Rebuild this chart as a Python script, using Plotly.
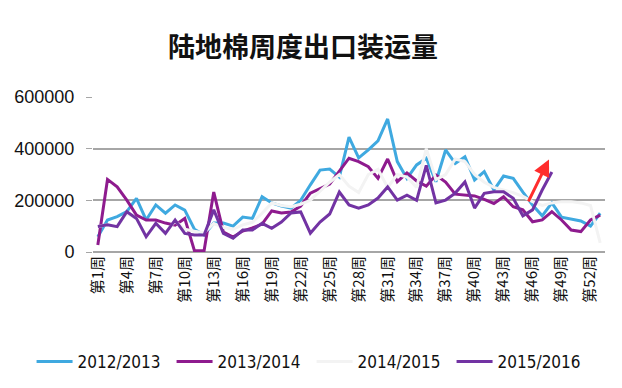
import plotly.graph_objects as go

weeks = [f"第{i}周" for i in range(1, 54)]
tick_labels = weeks[0::3]

s2012 = [59000, 124000, 137000, 156000, 208000, 124000, 182000, 150000, 182000, 162000,
         88000, 66000, 112000, 112000, 100000, 135000, 130000, 214000, 190000, 178000,
         170000, 200000, 260000, 317000, 321000, 290000, 445000, 364000, 395000, 430000,
         515000, 350000, 285000, 337000, 363000, 272000, 395000, 343000, 369000, 279000,
         311000, 240000, 294000, 285000, 232000, 182000, 140000, 190000, 135000, 128000,
         120000, 100000, 150000]
s2013 = [27000, 281000, 252000, 201000, 143000, 124000, 124000, 112000, 104000, 130000,
         5000, 5000, 232000, 77000, 58000, 81000, 93000, 108000, 159000, 151000,
         155000, 178000, 228000, 244000, 263000, 313000, 363000, 350000, 330000, 285000,
         360000, 272000, 306000, 275000, 255000, 298000, 271000, 224000, 220000, 217000,
         204000, 188000, 214000, 175000, 163000, 117000, 124000, 156000, 124000, 85000,
         79000, 124000, 143000]
s2014 = [99000, 105000, 98000, 150000, 128000, 62000, 108000, 75000, 120000, 88000,
         80000, 75000, 110000, 95000, 88000, 105000, 115000, 150000, 190000, 180000,
         175000, 185000, 200000, 235000, 270000, 300000, 255000, 230000, 300000, 320000,
         250000, 300000, 290000, 250000, 400000, 280000, 300000, 360000, 350000, 300000,
         270000, 250000, 240000, 230000, 215000, 195000, 180000, 190000, 195000, 195000,
         190000, 180000, 35000]
s2015 = [99000, 105000, 98000, 156000, 130000, 59000, 111000, 72000, 124000, 72000,
         66000, 66000, 163000, 72000, 53000, 85000, 85000, 111000, 92000, 116000,
         151000, 155000, 73000, 116000, 147000, 232000, 182000, 170000, 182000, 209000,
         252000, 201000, 220000, 200000, 335000, 190000, 201000, 228000, 271000, 170000,
         227000, 233000, 233000, 208000, 140000, 163000, 240000, 310000]

series = [
    ("2012/2013", s2012, "#3FA9E0"),
    ("2013/2014", s2013, "#8E1B8E"),
    ("2014/2015", s2014, "#F3F3F3"),
    ("2015/2016", s2015, "#7233A3"),
]

# red trend arrow (category index, value)
arrow_tail = (44.5, 190000)
arrow_tip = (46.7, 358000)

fig = go.Figure()
for name, vals, color in series:
    fig.add_trace(go.Scatter(
        x=weeks[:len(vals)], y=vals, mode="lines", name=name,
        line=dict(color=color, width=3),
    ))

fig.add_annotation(
    x=arrow_tip[0], y=arrow_tip[1], ax=arrow_tail[0], ay=arrow_tail[1],
    xref="x", yref="y", axref="x", ayref="y",
    showarrow=True, arrowhead=2, arrowsize=1.1, arrowwidth=3,
    arrowcolor="#FF2D2D", text="",
)

fig.update_layout(
    width=622, height=388,
    margin=dict(l=93, r=17, t=97, b=136, autoexpand=False),
    paper_bgcolor="white", plot_bgcolor="white",
    title=dict(text="<b>陆地棉周度出口装运量</b>", x=0.487, xanchor="center",
               y=0.877, yanchor="middle",
               font=dict(family="Noto Sans CJK SC", size=27, color="#111111")),
    font=dict(family="Noto Sans CJK SC", color="#222222"),
    showlegend=True,
    legend=dict(orientation="h", x=-0.12, xanchor="left", y=-0.71, yanchor="middle",
                font=dict(family="DejaVu Sans Condensed", size=17, color="#111111"),
                entrywidth=89, itemwidth=36, bgcolor="rgba(0,0,0,0)"),
)
fig.update_xaxes(
    type="category", categoryorder="array", categoryarray=weeks,
    range=[-0.5, 52.5], tickmode="array", tickvals=tick_labels, ticktext=tick_labels,
    tickangle=-90, tickfont=dict(family="Noto Sans CJK SC", size=15, color="#111111"),
    showgrid=False, showline=False, zeroline=False, ticks="",
)
fig.update_yaxes(
    range=[0, 600000], tickvals=[0, 200000, 400000, 600000],
    ticktext=["0", "200000", "400000", "600000"],
    showgrid=True, gridcolor="#A6A6A6", gridwidth=1.5,
    zeroline=True, zerolinecolor="#A6A6A6", zerolinewidth=1.5,
    ticks="outside", ticklen=6, tickcolor="#A6A6A6", ticklabelstandoff=8,
    tickfont=dict(family="Liberation Sans", size=18, color="#111111"),
    showline=False,
)

fig.write_html("out.html", config={"displayModeBar": False},
               post_script="document.body.style.margin='0';document.body.style.overflow='hidden';")
